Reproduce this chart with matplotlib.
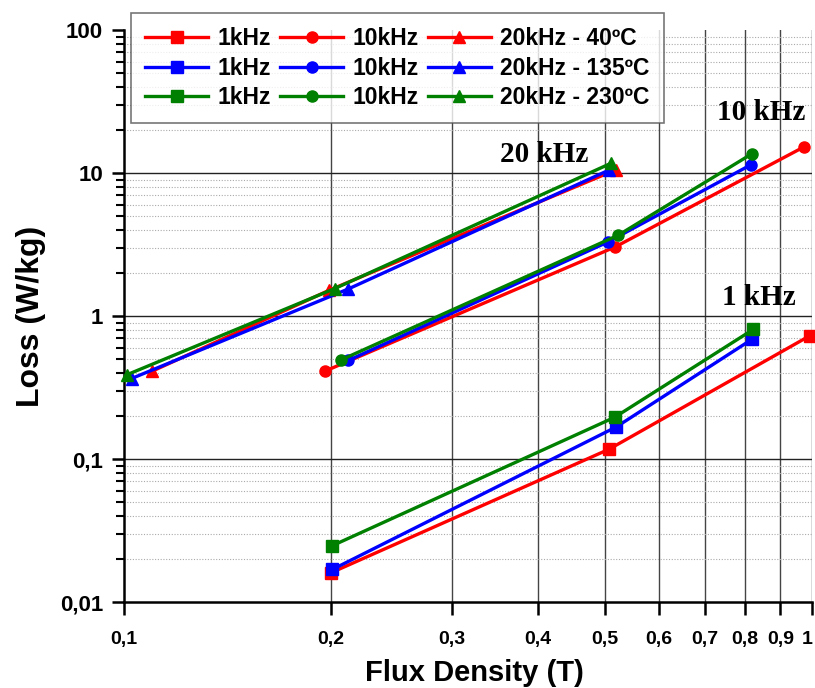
import numpy as np
import matplotlib
matplotlib.use("Agg")
import matplotlib.pyplot as plt
import matplotlib.transforms as mtransforms
from matplotlib.ticker import FixedLocator, FixedFormatter, NullFormatter

# measured core loss, three temperatures x three frequencies
temps = ["40ºC", "135ºC", "230ºC"]
colors = ["red", "blue", "green"]
freqs = ["1kHz", "10kHz", "20kHz"]
markers = ["s", "o", "^"]

B_1k = [[0.20, 0.507, 0.994], [0.201, 0.52, 0.818], [0.201, 0.517, 0.822]]
P_1k = [[0.016, 0.117, 0.73], [0.0169, 0.168, 0.687], [0.0248, 0.196, 0.807]]

B_10k = [[0.196, 0.518, 0.975], [0.212, 0.506, 0.817], [0.2065, 0.523, 0.819]]
P_10k = [[0.412, 3.05, 15.3], [0.49, 3.31, 11.5], [0.492, 3.68, 13.7]]

B_20k = [[0.1097, 0.199, 0.52], [0.1026, 0.212, 0.507], [0.1009, 0.2026, 0.51]]
P_20k = [[0.41, 1.52, 10.6], [0.366, 1.55, 10.5], [0.388, 1.56, 11.7]]

x_ticks = [0.1, 0.2, 0.3, 0.4, 0.5, 0.6, 0.7, 0.8, 0.9, 1.0]
x_labels = ["0,1", "0,2", "0,3", "0,4", "0,5", "0,6", "0,7", "0,8", "0,9", "1"]
y_ticks = [0.01, 0.1, 1, 10, 100]
y_labels = ["0,01", "0,1", "1", "10", "100"]

sans = "Liberation Sans"
serif = "Liberation Serif"

fig = plt.figure(figsize=(8.15, 6.88), dpi=100)
ax = fig.add_axes([0.152, 0.125, 0.844, 0.831])
ax.set_xscale("log")
ax.set_yscale("log")
ax.set_xlim(0.1, 1.0)
ax.set_ylim(0.01, 100)

series = [(B_1k, P_1k), (B_10k, P_10k), (B_20k, P_20k)]
handles = []
labels = []
for fi, (B, P) in enumerate(series):
    for ti in range(3):
        lab = freqs[fi] + (" - " + temps[ti] if fi == 2 else "")
        h, = ax.plot(B[ti], P[ti], color=colors[ti], marker=markers[fi],
                     markersize=8, linewidth=2.4, clip_on=False, zorder=3 + ti)
        handles.append(h)
        labels.append(lab)

# grid
ax.xaxis.set_major_locator(FixedLocator(x_ticks))
ax.xaxis.set_major_formatter(FixedFormatter(x_labels))
ax.xaxis.set_minor_locator(FixedLocator([]))
ax.yaxis.set_major_locator(FixedLocator(y_ticks))
ax.yaxis.set_major_formatter(FixedFormatter(y_labels))
ax.yaxis.set_minor_formatter(NullFormatter())
for xv in x_ticks[1:]:
    ax.axvline(xv, color="#444444", linewidth=1.0, zorder=1)
for yv in y_ticks[1:-1]:
    ax.axhline(yv, color="#222222", linewidth=1.0, zorder=1)
ax.grid(which="minor", axis="y", color="#aaaaaa", linestyle=(0, (1, 1.5)), linewidth=0.8)

for s in ["top", "right"]:
    ax.spines[s].set_visible(False)
for s in ["left", "bottom"]:
    ax.spines[s].set_linewidth(1.8)

ax.tick_params(axis="x", which="major", direction="out", length=9, width=1.8, pad=12)
ax.tick_params(axis="y", which="major", direction="out", length=9, width=1.8, pad=6)
ax.tick_params(axis="y", which="minor", direction="out", length=6, width=1.5)
for t in ax.get_xticklabels():
    t.set_fontfamily(sans)
    t.set_fontweight("bold")
    t.set_fontsize(14)
for t in ax.get_yticklabels():
    t.set_fontfamily(sans)
    t.set_fontweight("bold")
    t.set_fontsize(16)
# keep the last "1" inside the canvas
last = ax.get_xticklabels()[-1]
last.set_transform(last.get_transform() + mtransforms.ScaledTranslation(-5 / 100, 0, fig.dpi_scale_trans))

ax.set_xlabel("Flux Density (T)", fontfamily=sans, fontweight="bold", fontsize=21)
ax.xaxis.set_label_coords(0.51, -0.1)
ax.set_ylabel("Loss (W/kg)", fontfamily=sans, fontweight="bold", fontsize=23, labelpad=10)

# legend: column-major fill -> order by frequency
leg = fig.legend(handles, labels, ncol=3, loc="upper left",
                 bbox_to_anchor=(0.161, 0.981), frameon=True, fancybox=False,
                 handlelength=2.75, handletextpad=0.4, columnspacing=0.4,
                 labelspacing=0.28, borderpad=0.62, borderaxespad=0,
                 prop={"family": sans, "weight": "bold", "size": 16.5})
leg.get_frame().set_edgecolor("#555555")
leg.get_frame().set_linewidth(1.2)

ax.text(0.352, 11.9, "20 kHz", fontfamily=serif, fontweight="bold", fontsize=21, ha="left", va="baseline")
ax.text(0.728, 23.5, "10 kHz", fontfamily=serif, fontweight="bold", fontsize=21, ha="left", va="baseline")
ax.text(0.74, 1.19, "1 kHz", fontfamily=serif, fontweight="bold", fontsize=21, ha="left", va="baseline")

plt.savefig("out.png", dpi=100)
plt.close()
